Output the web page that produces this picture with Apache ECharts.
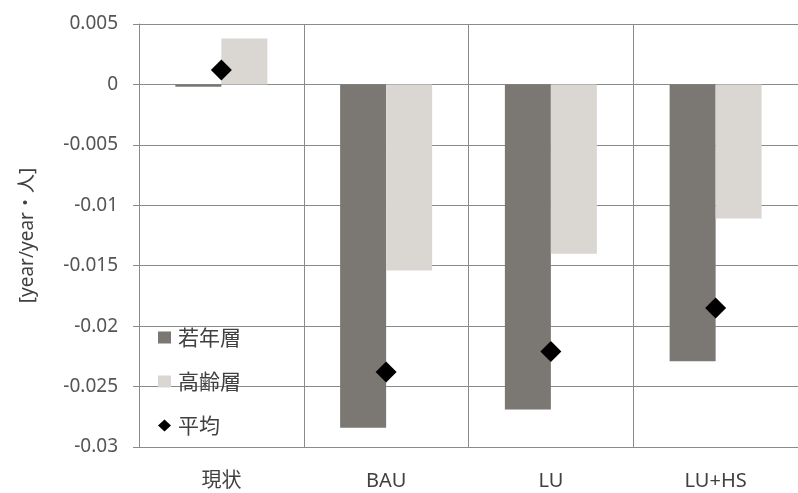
<!DOCTYPE html>
<html>
<head>
<meta charset="utf-8">
<script src="https://cdn.jsdelivr.net/npm/echarts@6/dist/echarts.min.js"></script>
<style>
  html, body { margin: 0; padding: 0; background: #fff; }
  #chart { width: 798px; height: 493px; }
</style>
</head>
<body>
<div id="chart"></div>
<script>
// categories and values
const categories = ['現状', 'BAU', 'LU', 'LU+HS']
const youngData = [-0.0002, -0.0284, -0.0269, -0.0229]   // 若年層
const elderData = [0.0038, -0.0154, -0.0140, -0.0111]    // 高齢層
const avgData = [0.0012, -0.0238, -0.0221, -0.0185]      // 平均

const labelFont = '"Noto Sans", "Noto Sans CJK JP", sans-serif'
const cjkFont = '"Noto Sans CJK JP", sans-serif'
const lineColor = '#8a8a8a'

const chart = echarts.init(document.getElementById('chart'))
const option = {
  animation: false,
  backgroundColor: '#fff',
  grid: { left: 139, right: -3, top: 24, bottom: 46 },
  legend: {
    orient: 'vertical',
    left: 158,
    top: 327,
    padding: 0,
    itemGap: 23,
    itemWidth: 13,
    itemHeight: 12,
    textStyle: { fontSize: 21, color: '#404040', fontFamily: cjkFont, padding: [0, 0, 0, 2] },
    data: [
      { name: '若年層', icon: 'rect' },
      { name: '高齢層', icon: 'rect' },
      { name: '平均', icon: 'diamond' }
    ]
  },
  xAxis: {
    type: 'category',
    data: categories,
    axisLine: { onZero: false, lineStyle: { color: lineColor, width: 1 } },
    axisTick: { show: false },
    splitLine: { show: true, lineStyle: { color: lineColor, width: 1 } },
    axisLabel: { color: '#404040', fontSize: 20, margin: 24, fontFamily: labelFont }
  },
  yAxis: {
    type: 'value',
    min: -0.03,
    max: 0.005,
    interval: 0.005,
    name: '[year/year・人]',
    nameLocation: 'middle',
    nameRotate: 90,
    nameGap: 102,
    nameTextStyle: { color: '#404040', fontSize: 19, fontFamily: labelFont },
    axisLine: { show: true, lineStyle: { color: lineColor, width: 1 } },
    axisTick: { show: true, length: 6, lineStyle: { color: lineColor } },
    splitLine: { show: true, lineStyle: { color: lineColor, width: 1 } },
    axisLabel: {
      color: '#555',
      fontSize: 19,
      margin: 21,
      fontFamily: labelFont,
      formatter: v => String(parseFloat(v.toFixed(3)))
    }
  },
  series: [
    {
      name: '若年層',
      type: 'bar',
      data: youngData,
      barWidth: 46,
      barGap: '0%',
      itemStyle: { color: '#7b7772' }
    },
    {
      name: '高齢層',
      type: 'bar',
      data: elderData,
      barWidth: 46,
      itemStyle: { color: '#dad7d3' }
    },
    {
      name: '平均',
      type: 'scatter',
      data: avgData,
      symbol: 'diamond',
      symbolSize: 21,
      itemStyle: { color: '#000', opacity: 1 },
      z: 5
    }
  ]
}
chart.setOption(option)
</script>
</body>
</html>
